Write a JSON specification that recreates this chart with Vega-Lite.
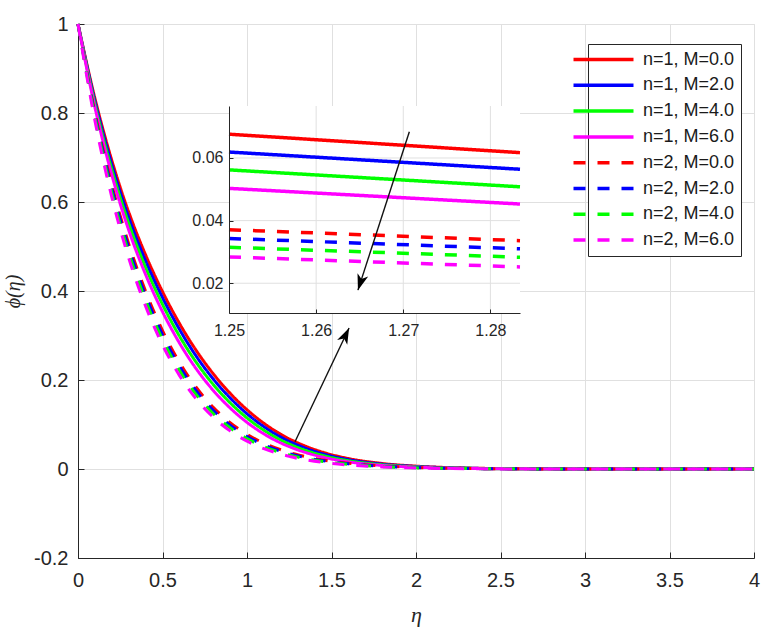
{
  "$schema": "https://vega.github.io/schema/vega-lite/v6.json",
  "width": 676,
  "height": 534,
  "autosize": "none",
  "padding": {"left": 78, "top": 24, "right": 9, "bottom": 73},
  "background": "white",
  "config": {
    "view": {"stroke": "#dcdcdc", "strokeWidth": 1},
    "axis": {
      "labelFont": "Liberation Sans",
      "labelColor": "#262626",
      "domainColor": "#262626",
      "tickColor": "#262626",
      "gridColor": "#e0e0e0",
      "titleFont": "Liberation Serif",
      "titleFontStyle": "italic",
      "titleFontWeight": "normal",
      "titleColor": "#262626",
      "labelFlush": false,
      "labelOverlap": false
    },
    "legend": {
      "orient": "none",
      "legendX": 510,
      "legendY": 20,
      "symbolType": "M-4,0H4",
      "symbolSize": 225,
      "symbolStrokeWidth": 3.5,
      "labelFont": "Liberation Sans",
      "labelFontSize": 18,
      "labelColor": "#1a1a1a",
      "labelOffset": 30,
      "strokeColor": "#262626",
      "fillColor": "white",
      "padding": 6,
      "rowPadding": 6.8
    }
  },
  "datasets": {
    "phi": [
      {"eta": 0, "a0": 1, "a2": 1, "a4": 1, "a6": 1, "b0": 1, "b2": 1, "b4": 1, "b6": 1},
      {"eta": 0.1, "a0": 0.833, "a2": 0.827, "a4": 0.82, "a6": 0.813, "b0": 0.801, "b2": 0.796, "b4": 0.791, "b6": 0.783},
      {"eta": 0.2, "a0": 0.6935, "a2": 0.684, "a4": 0.673, "a6": 0.661, "b0": 0.638, "b2": 0.63, "b4": 0.621, "b6": 0.611},
      {"eta": 0.3, "a0": 0.5775, "a2": 0.565, "a4": 0.552, "a6": 0.537, "b0": 0.506, "b2": 0.4966, "b4": 0.4863, "b6": 0.4741},
      {"eta": 0.4, "a0": 0.481, "a2": 0.4675, "a4": 0.453, "a6": 0.437, "b0": 0.3993, "b2": 0.3894, "b4": 0.3789, "b6": 0.366},
      {"eta": 0.5, "a0": 0.3985, "a2": 0.385, "a4": 0.37, "a6": 0.3535, "b0": 0.311, "b2": 0.3014, "b4": 0.2911, "b6": 0.279},
      {"eta": 0.6, "a0": 0.3273, "a2": 0.314, "a4": 0.299, "a6": 0.2834, "b0": 0.2398, "b2": 0.2309, "b4": 0.2216, "b6": 0.2103},
      {"eta": 0.7, "a0": 0.2661, "a2": 0.2533, "a4": 0.2395, "a6": 0.2249, "b0": 0.1831, "b2": 0.1752, "b4": 0.167, "b6": 0.1571},
      {"eta": 0.8, "a0": 0.2142, "a2": 0.2024, "a4": 0.19, "a6": 0.1767, "b0": 0.1386, "b2": 0.1318, "b4": 0.1247, "b6": 0.1164},
      {"eta": 0.9, "a0": 0.1702, "a2": 0.1598, "a4": 0.1488, "a6": 0.1372, "b0": 0.1043, "b2": 0.0986, "b4": 0.0926, "b6": 0.0857},
      {"eta": 1.0, "a0": 0.1332, "a2": 0.1241, "a4": 0.1147, "a6": 0.1048, "b0": 0.078, "b2": 0.0732, "b4": 0.0683, "b6": 0.0627},
      {"eta": 1.1, "a0": 0.1027, "a2": 0.0951, "a4": 0.0871, "a6": 0.0789, "b0": 0.0581, "b2": 0.0542, "b4": 0.0503, "b6": 0.0457},
      {"eta": 1.2, "a0": 0.078, "a2": 0.0717, "a4": 0.0651, "a6": 0.0585, "b0": 0.0432, "b2": 0.04, "b4": 0.0368, "b6": 0.0333},
      {"eta": 1.25, "a0": 0.0676, "a2": 0.0619, "a4": 0.0562, "a6": 0.0503, "b0": 0.0371, "b2": 0.0343, "b4": 0.0315, "b6": 0.0284},
      {"eta": 1.2834, "a0": 0.0617, "a2": 0.0564, "a4": 0.0508, "a6": 0.0453, "b0": 0.0336, "b2": 0.031, "b4": 0.0283, "b6": 0.0252},
      {"eta": 1.35, "a0": 0.0508, "a2": 0.0462, "a4": 0.0415, "a6": 0.0367, "b0": 0.0275, "b2": 0.0252, "b4": 0.023, "b6": 0.0205},
      {"eta": 1.45, "a0": 0.0376, "a2": 0.034, "a4": 0.0303, "a6": 0.0265, "b0": 0.0204, "b2": 0.0186, "b4": 0.0169, "b6": 0.0149},
      {"eta": 1.6, "a0": 0.0236, "a2": 0.0211, "a4": 0.0186, "a6": 0.0161, "b0": 0.0128, "b2": 0.0116, "b4": 0.0104, "b6": 0.009},
      {"eta": 1.8, "a0": 0.0124, "a2": 0.0109, "a4": 0.0095, "a6": 0.008, "b0": 0.0068, "b2": 0.0061, "b4": 0.0054, "b6": 0.0046},
      {"eta": 2.0, "a0": 0.0064, "a2": 0.0056, "a4": 0.0047, "a6": 0.004, "b0": 0.0035, "b2": 0.0031, "b4": 0.0027, "b6": 0.0023},
      {"eta": 2.3, "a0": 0.0022, "a2": 0.0019, "a4": 0.0016, "a6": 0.0013, "b0": 0.0012, "b2": 0.001, "b4": 0.0009, "b6": 0.0007},
      {"eta": 2.6, "a0": 0.0007, "a2": 0.0006, "a4": 0.0005, "a6": 0.0004, "b0": 0.0004, "b2": 0.0003, "b4": 0.0003, "b6": 0.0002},
      {"eta": 3.0, "a0": 0.0002, "a2": 0.0002, "a4": 0.0001, "a6": 0.0001, "b0": 0.0001, "b2": 0.0001, "b4": 0.0001, "b6": 0.0001},
      {"eta": 4.0, "a0": 0, "a2": 0, "a4": 0, "a6": 0, "b0": 0, "b2": 0, "b4": 0, "b6": 0}
    ]
  },
  "layer": [
    {
      "layer": [
        {
          "data": {"name": "phi"},
          "transform": [{"fold": ["a0", "a2", "a4", "a6", "b0", "b2", "b4", "b6"], "as": ["s", "phi"]}],
          "mark": {"type": "line", "strokeWidth": 3, "interpolate": "monotone"},
          "encoding": {
            "x": {
              "field": "eta", "type": "quantitative",
              "scale": {"domain": [0, 4], "nice": false, "zero": false},
              "axis": {
                "orient": "bottom",
                "values": [0, 0.5, 1, 1.5, 2, 2.5, 3, 3.5, 4],
                "labelExpr": "'' + datum.value",
                "labelFontSize": 20,
                "tickSize": -6,
                "labelPadding": 18,
                "grid": true,
                "title": "η",
                "titleFontSize": 22,
                "titlePadding": 14
              }
            },
            "y": {
              "field": "phi", "type": "quantitative",
              "scale": {"domain": [-0.2, 1], "nice": false, "zero": false},
              "axis": {
                "orient": "left",
                "values": [-0.2, 0, 0.2, 0.4, 0.6, 0.8, 1],
                "labelExpr": "'' + datum.value",
                "labelFontSize": 20,
                "tickSize": -6,
                "labelPadding": 16,
                "grid": true,
                "title": "ϕ(η)",
                "titleFontSize": 20,
                "titlePadding": 10
              }
            },
            "color": {
              "field": "s", "type": "nominal",
              "scale": {
                "domain": ["a0", "a2", "a4", "a6", "b0", "b2", "b4", "b6"],
                "range": ["#ff0000", "#0000ff", "#00ff00", "#ff00ff", "#ff0000", "#0000ff", "#00ff00", "#ff00ff"]
              },
              "legend": {
                "title": null,
                "labelExpr": "{'a0':'n=1, M=0.0','a2':'n=1, M=2.0','a4':'n=1, M=4.0','a6':'n=1, M=6.0','b0':'n=2, M=0.0','b2':'n=2, M=2.0','b4':'n=2, M=4.0','b6':'n=2, M=6.0'}[datum.label]"
              }
            },
            "strokeDash": {
              "field": "s", "type": "nominal",
              "scale": {
                "domain": ["a0", "a2", "a4", "a6", "b0", "b2", "b4", "b6"],
                "range": [[1, 0], [1, 0], [1, 0], [1, 0], [12, 12], [12, 12], [12, 12], [12, 12]]
              },
              "legend": {
                "title": null,
                "labelExpr": "{'a0':'n=1, M=0.0','a2':'n=1, M=2.0','a4':'n=1, M=4.0','a6':'n=1, M=6.0','b0':'n=2, M=0.0','b2':'n=2, M=2.0','b4':'n=2, M=4.0','b6':'n=2, M=6.0'}[datum.label]"
              }
            }
          }
        },
        {
          "data": {"values": [{"x1": 1.284, "y1": 0.0614, "x2": 1.604, "y2": 0.317}]},
          "mark": {"type": "rule", "color": "#111111", "strokeWidth": 1.4},
          "encoding": {
            "x": {"field": "x1", "type": "quantitative"},
            "y": {"field": "y1", "type": "quantitative"},
            "x2": {"field": "x2"},
            "y2": {"field": "y2"}
          }
        },
        {
          "data": {"values": [{"x2": 1.604, "y2": 0.317}]},
          "mark": {"type": "point", "shape": "M0,0L-0.7,2L0,1.45L0.7,2Z", "filled": true, "color": "black", "opacity": 1, "size": 256, "angle": 25.5},
          "encoding": {
            "x": {"field": "x2", "type": "quantitative"},
            "y": {"field": "y2", "type": "quantitative"}
          }
        }
      ]
    },
    {
      "layer": [
        {
          "data": {"values": [{}]},
          "mark": {"type": "rect", "color": "white", "opacity": 1},
          "encoding": {
            "x": {
              "datum": 1.25, "type": "quantitative",
              "scale": {"domain": [1.25, 1.2834], "range": [151, 442], "nice": false, "zero": false},
              "axis": {
                "orient": "bottom", "offset": -245,
                "values": [1.25, 1.26, 1.27, 1.28], "format": ".2f",
                "labelFontSize": 16, "tickSize": -4, "labelPadding": 13,
                "grid": false, "title": null, "zindex": 2
              }
            },
            "x2": {"datum": 1.2834},
            "y": {
              "datum": 0.0105, "type": "quantitative",
              "scale": {"domain": [0.0105, 0.0766], "range": [289, 82], "nice": false, "zero": false},
              "axis": {
                "orient": "left", "offset": -151,
                "values": [0.02, 0.04, 0.06], "format": ".2f",
                "labelFontSize": 16, "tickSize": -4, "labelPadding": 10,
                "grid": false, "title": null, "zindex": 2
              }
            },
            "y2": {"datum": 0.0766}
          }
        },
        {
          "data": {"values": [{"v": 1.26}, {"v": 1.27}, {"v": 1.28}]},
          "mark": {"type": "rule", "color": "#e0e0e0", "strokeWidth": 1},
          "encoding": {
            "x": {"field": "v", "type": "quantitative"},
            "y": {"datum": 0.0105, "type": "quantitative"},
            "y2": {"datum": 0.0766}
          }
        },
        {
          "data": {"values": [{"h": 0.02}, {"h": 0.04}, {"h": 0.06}]},
          "mark": {"type": "rule", "color": "#e0e0e0", "strokeWidth": 1},
          "encoding": {
            "y": {"field": "h", "type": "quantitative"},
            "x": {"datum": 1.25, "type": "quantitative"},
            "x2": {"datum": 1.2834}
          }
        },
        {
          "data": {"name": "phi"},
          "transform": [
            {"fold": ["a0", "a2", "a4", "a6", "b0", "b2", "b4", "b6"], "as": ["s", "phi"]},
            {"filter": {"field": "eta", "range": [1.25, 1.2834]}}
          ],
          "mark": {"type": "line", "strokeWidth": 3.5},
          "encoding": {
            "x": {"field": "eta", "type": "quantitative"},
            "y": {"field": "phi", "type": "quantitative"},
            "color": {"field": "s", "type": "nominal"},
            "strokeDash": {"field": "s", "type": "nominal"}
          }
        },
        {
          "data": {"values": [{"x1": 1.2707, "y1": 0.0684, "x2": 1.2648, "y2": 0.0178}]},
          "mark": {"type": "rule", "color": "#111111", "strokeWidth": 1.4},
          "encoding": {
            "x": {"field": "x1", "type": "quantitative"},
            "y": {"field": "y1", "type": "quantitative"},
            "x2": {"field": "x2"},
            "y2": {"field": "y2"}
          }
        },
        {
          "data": {"values": [{"x2": 1.2648, "y2": 0.0178}]},
          "mark": {"type": "point", "shape": "M0,0L-0.7,2L0,1.45L0.7,2Z", "filled": true, "color": "black", "opacity": 1, "size": 256, "angle": 197.8},
          "encoding": {
            "x": {"field": "x2", "type": "quantitative"},
            "y": {"field": "y2", "type": "quantitative"}
          }
        }
      ]
    }
  ],
  "resolve": {"scale": {"x": "independent", "y": "independent"}}
}
